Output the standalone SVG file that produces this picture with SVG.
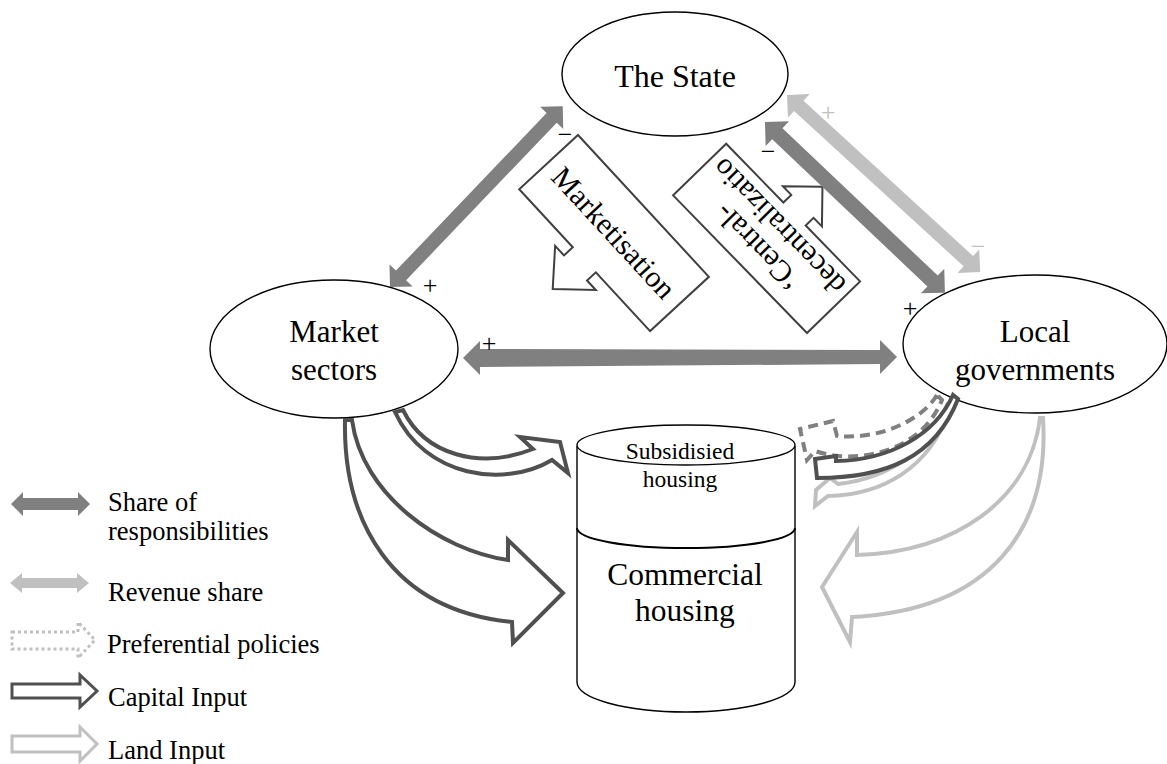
<svg xmlns="http://www.w3.org/2000/svg" width="1167" height="764" viewBox="0 0 1167 764">
<style>
.t{font-family:"Liberation Serif","Times New Roman",serif;fill:#000}
.node{fill:#fff;stroke:#000;stroke-width:1.4}
.dark{fill:#808080}
.light{fill:#c0c0c0}
.cap{fill:#fff;stroke:#505050;stroke-width:4;stroke-linejoin:miter}
.land{fill:#fff;stroke:#c0c0c0;stroke-width:4;stroke-linejoin:miter}
.pref{fill:#fff;stroke:#808080;stroke-width:4;stroke-dasharray:10 6}
.callout{fill:#fff;stroke:#404040;stroke-width:2}
</style>
<rect width="1167" height="764" fill="#fff"/>

<g id="the-state">
<ellipse class="node" cx="675" cy="74" rx="113" ry="62"/>
<text class="t" x="675" y="87" font-size="32" text-anchor="middle">The State</text>
</g>
<g id="market-sectors">
<ellipse class="node" cx="334" cy="349" rx="124" ry="69"/>
<text class="t" x="334" y="342" font-size="31" text-anchor="middle">Market</text>
<text class="t" x="334" y="380" font-size="31" text-anchor="middle">sectors</text>
</g>
<g id="local-governments">
<ellipse class="node" cx="1035" cy="344" rx="132" ry="69"/>
<text class="t" x="1035" y="342" font-size="31" text-anchor="middle">Local</text>
<text class="t" x="1035" y="380" font-size="31" text-anchor="middle">governments</text>
</g>
<g id="housing">
<path class="node" stroke-width="2" d="M577,446 L577,682 A109,30 0 0 0 795,682 L795,446"/>
<ellipse class="node" stroke-width="2" cx="686" cy="445" rx="109" ry="20"/>
<path fill="none" stroke="#000" stroke-width="2" d="M577,528 A109,20 0 0 0 795,528"/>
<text class="t" x="680" y="459" font-size="23.5" text-anchor="middle">Subsidisied</text>
<text class="t" x="680" y="487" font-size="23.5" text-anchor="middle">housing</text>
<text class="t" x="685" y="585" font-size="31.5" text-anchor="middle">Commercial</text>
<text class="t" x="685" y="621" font-size="31.5" text-anchor="middle">housing</text>
</g>
<g id="marketisation" transform="translate(578,135) rotate(47.3)">
<polygon class="callout" points="0,0 193,0 193,80 113,80 113,92 126,92 96,123 66,92 79,92 79,80 0,80"/>
<text class="t" x="96" y="50" font-size="30" text-anchor="middle">Marketisation</text>
</g>
<g id="decentralisation" transform="translate(807,333) rotate(-134.2)">
<polygon class="callout" points="0,0 192,0 192,74 110,74 110,85 122,85 94,113 66,85 78,85 78,74 0,74"/>
<text class="t" x="96" y="34" font-size="30" text-anchor="middle">‘Central-</text>
<text class="t" x="96" y="64" font-size="30" text-anchor="middle">decentralizatio</text>
</g>

<g id="connectors">
<polygon class="dark" transform="translate(390,287) rotate(-46.3)" points="0,0 16,-16 16,-7 234,-7 234,-16 250,0 234,16 234,7 16,7 16,16"/>
<polygon class="dark" transform="translate(765,122) rotate(43.5)" points="0,0 17,-17 17,-7.5 231,-7.5 231,-17 248,0 231,17 231,7.5 17,7.5 17,17"/>
<polygon class="light" transform="translate(787,95) rotate(42.5)" points="0,0 16,-16 16,-7 246,-7 246,-16 262,0 246,16 246,7 16,7 16,16"/>
<polygon class="dark" points="463,358 480,341 480,349 880,350 880,340 897,357 880,374 880,364 480,367 480,375"/>
<path class="cap" d="M345,420 C343,520 390,610 512,622 L513,643 L563,593 L508,540 L508,560 C440,550 362,495 352,420 Z"/>
<path class="cap" d="M403,410 C425,455 480,470 533,449 L520,437 L560,442 L568,473 L552,460 C505,488 425,478 395,412 Z"/>
<path class="land" d="M1043,418 C1050,530 990,610 852,617 L850,642 L822,587 L857,532 L857,555 C955,552 1030,500 1040,418 Z"/>
<path class="land" d="M947,405 C930,450 890,478 838,484 L830,478 L816,490 L815,506 L828,496 C880,495 930,470 950,408 Z"/>
<path class="pref" d="M937,395 C922,420 880,440 837,436 L833,421 L800,429 L807,460 L815,451 C860,466 922,450 942,400 Z"/>
<path class="cap" d="M953,395 C935,435 890,460 836,461 L836,456 L815,459 L817,478 C885,478 935,458 958,399 Z"/>
<text class="t" x="565" y="143" font-size="26" text-anchor="middle">−</text>
<text class="t" x="430" y="294" font-size="26" text-anchor="middle">+</text>
<text class="t" x="768" y="160" font-size="26" text-anchor="middle">−</text>
<text class="t" x="828" y="121" font-size="26" text-anchor="middle" fill="#c0c0c0" style="fill:#c0c0c0">+</text>
<text class="t" x="978" y="255" font-size="26" text-anchor="middle" style="fill:#c0c0c0">−</text>
<text class="t" x="910" y="317" font-size="26" text-anchor="middle">+</text>
<text class="t" x="489" y="352" font-size="26" text-anchor="middle">+</text>
</g>

<g id="legend">
<polygon class="dark" points="11,504 23,492 23,498 78,498 78,492 90,504 78,516 78,510 23,510 23,516"/>
<text class="t" x="108" y="511" font-size="26.5">Share of</text>
<text class="t" x="108" y="540" font-size="26.5">responsibilities</text>
<polygon class="light" points="10,583 22,573 22,578 77,578 77,573 89,583 77,593 77,588 22,588 22,593"/>
<text class="t" x="108" y="601" font-size="26.5">Revenue share</text>
<polygon fill="#fff" stroke="#c0c0c0" stroke-width="3" stroke-dasharray="3 3" points="12,632 78,632 78,622 95,640 78,658 78,649 12,649"/>
<text class="t" x="107" y="653" font-size="26.5">Preferential policies</text>
<polygon fill="#fff" stroke="#505050" stroke-width="3" points="12,684 80,684 80,675 97,691 80,707 80,698 12,698"/>
<text class="t" x="108" y="706" font-size="26.5">Capital Input</text>
<polygon fill="#fff" stroke="#c0c0c0" stroke-width="3" points="12,736 80,736 80,727 97,744 80,761 80,752 12,752"/>
<text class="t" x="108" y="759" font-size="26.5">Land Input</text>
</g>
</svg>
